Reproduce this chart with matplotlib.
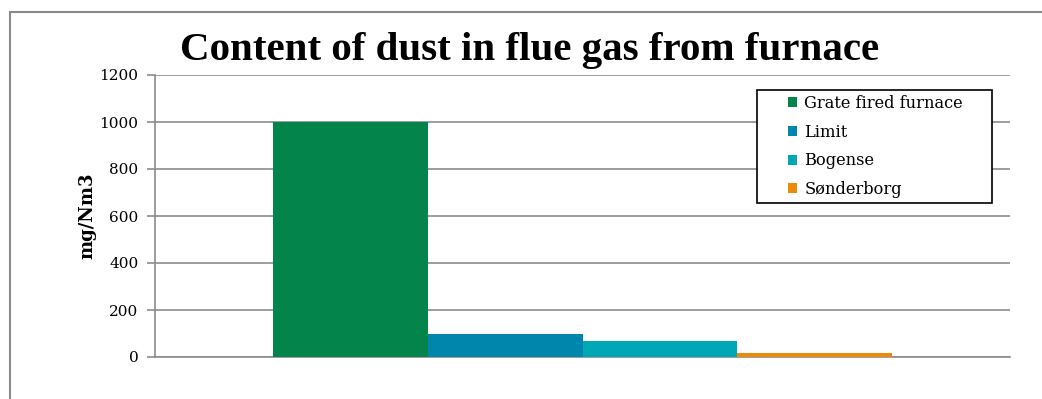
import matplotlib.pyplot as plt
from matplotlib.patches import Rectangle

series = ["Grate fired furnace", "Limit", "Bogense", "Sønderborg"]
values = [1000, 100, 70, 15]
colors = ["#02844a", "#0086ac", "#00a8b5", "#ec8a0a"]
yticks = [0, 200, 400, 600, 800, 1000, 1200]

plt.rcParams['font.family'] = ['DejaVu Serif']

fig = plt.figure(figsize=(10.42, 3.99), dpi=100)
W, H = 1042, 399
# chart frame
fig.patches.append(Rectangle((10 / W, -0.1), 1.1, (H - 12) / H + 0.1,
                             transform=fig.transFigure, fill=False,
                             edgecolor="#8a8a8a", linewidth=1.5))

ax = fig.add_axes([155 / W, 42 / H, 855 / W, 282 / H])

group_w = 0.725
bar_w = group_w / len(series)
for i, (name, v, c) in enumerate(zip(series, values, colors)):
    x = -group_w / 2 + bar_w * (i + 0.5)
    ax.bar(x, v, width=bar_w, color=c, label=name, zorder=3)

ax.set_xlim(-0.5, 0.5)
ax.set_ylim(0, 1200)
ax.set_yticks(yticks)
ax.set_yticklabels([str(t) for t in yticks], fontsize=11)
ax.set_xticks([])
ax.yaxis.grid(True, color="#8c8c8c", linewidth=1.2, zorder=0)
for s in ["top", "right"]:
    ax.spines[s].set_visible(False)
for s in ["left", "bottom"]:
    ax.spines[s].set_color("#8c8c8c")
    ax.spines[s].set_linewidth(1.2)
ax.tick_params(axis="y", length=6, width=1.2, color="#8c8c8c", pad=6)
ax.set_ylabel("mg/Nm3", fontsize=13, fontweight="bold", labelpad=2)

fig.text(0.508, 0.873, "Content of dust in flue gas from furnace",
         ha="center", va="center", fontsize=29.5, fontweight="bold",
         family="Liberation Serif")

# legend entries, boxed by a separate wider frame
leg = ax.legend(loc="upper left", bbox_to_anchor=(788 / W, (H - 95) / H),
                bbox_transform=fig.transFigure, fontsize=11.7, frameon=False,
                handlelength=0.55, handleheight=0.55, handletextpad=0.45,
                borderpad=0, labelspacing=0.72, borderaxespad=0)
frame = Rectangle((757 / W, (H - 203) / H), 235 / W, 113 / H,
                  transform=fig.transFigure, facecolor="white",
                  edgecolor="black", linewidth=1.2, zorder=4)
ax.add_artist(frame)
leg.set_zorder(5)

fig.savefig("out.png", dpi=100)
